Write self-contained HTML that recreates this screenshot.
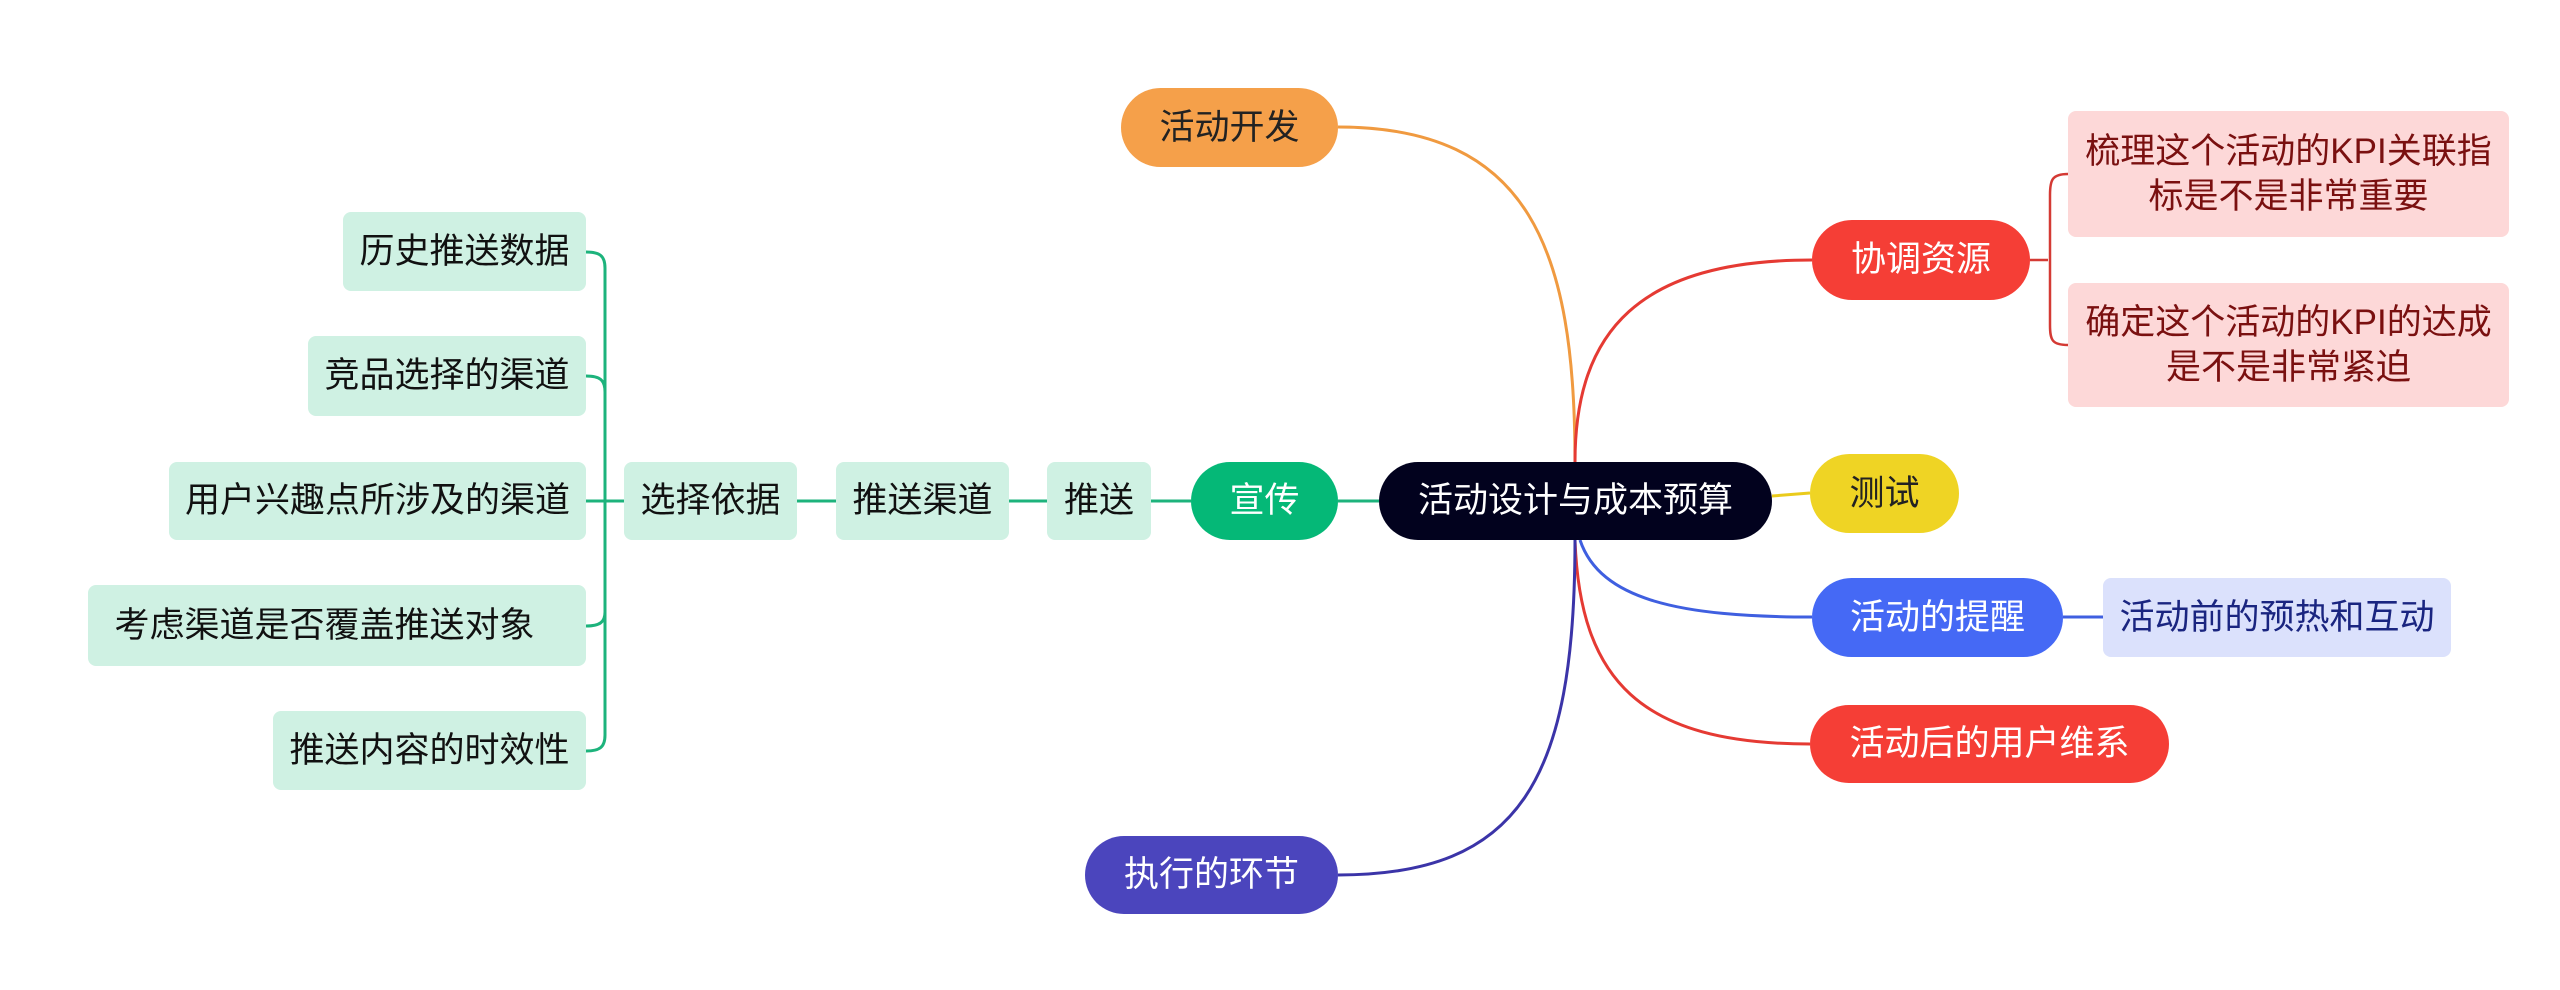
<!DOCTYPE html>
<html><head><meta charset="utf-8"><style>
body{margin:0;width:2560px;height:990px;background:#fff;position:relative;overflow:hidden;font-family:"Liberation Sans","Noto Sans CJK SC",sans-serif}
.n{position:absolute;display:flex;align-items:center;justify-content:center;box-sizing:border-box;font-size:35px;text-align:center;line-height:1.3;white-space:nowrap}
.p{border-radius:40px}
.g{background:#cff1e3;color:#111;border-radius:8px}
</style></head><body>
<svg width="2560" height="990" style="position:absolute;left:0;top:0">
<g fill="none" stroke-width="3">
<path d="M1575 462 C1575 250 1530 127 1338 127" stroke="#f09a40"/>
<path d="M1575 462 C1575 330 1640 260 1812 260" stroke="#e53a33"/>
<path d="M1772 496 L1810 493" stroke="#eacb1c"/>
<path d="M1580 540 C1600 600 1680 617 1812 617" stroke="#3f5fe0"/>
<path d="M2063 617 L2103 617" stroke="#3f5fe0"/>
<path d="M1575 540 C1580 680 1640 744 1810 744" stroke="#e53a33"/>
<path d="M1575 540 C1575 780 1520 875 1338 875" stroke="#3b34a8"/>
<path d="M1338 501 L1379 501 M1151 501 L1191 501 M1009 501 L1047 501 M797 501 L836 501" stroke="#1db37c"/>
<path d="M2030 260 L2048 260 M2068 174 C2052 174 2050 180 2050 195 L2050 325 C2050 340 2052 345 2068 345" stroke="#d43a34" stroke-width="2.5"/>
<path d="M624 501 L586 501 M586 252 C600 252 605 256 605 268 L605 735 C605 747 600 751 586 751 M586 376 C600 376 605 380 605 392 M586 626 C600 626 605 622 605 612" stroke="#1db37c"/>
</g></svg>
<div class="n p" style="left:1379px;top:462px;width:393px;height:78px;background:#02021e;color:#fff">活动设计与成本预算</div>
<div class="n p" style="left:1121px;top:88px;width:217px;height:79px;background:#f5a04a;color:#222">活动开发</div>
<div class="n p" style="left:1812px;top:220px;width:218px;height:80px;background:#f53e36;color:#fff">协调资源</div>
<div class="n" style="left:2068px;top:111px;width:441px;height:126px;background:#fdd8d8;color:#7a1010;border-radius:8px">梳理这个活动的KPI关联指<br>标是不是非常重要</div>
<div class="n" style="left:2068px;top:283px;width:441px;height:124px;background:#fdd8d8;color:#7a1010;border-radius:8px">确定这个活动的KPI的达成<br>是不是非常紧迫</div>
<div class="n p" style="left:1810px;top:454px;width:149px;height:79px;background:#efd424;color:#222">测试</div>
<div class="n p" style="left:1812px;top:578px;width:251px;height:79px;background:#4569f5;color:#fff">活动的提醒</div>
<div class="n" style="left:2103px;top:578px;width:348px;height:79px;background:#dbe1fc;color:#1a2580;border-radius:8px">活动前的预热和互动</div>
<div class="n p" style="left:1810px;top:705px;width:359px;height:78px;background:#f53e36;color:#fff">活动后的用户维系</div>
<div class="n p" style="left:1085px;top:836px;width:253px;height:78px;background:#4b45bd;color:#fff">执行的环节</div>
<div class="n p" style="left:1191px;top:462px;width:147px;height:78px;background:#05b877;color:#fff">宣传</div>
<div class="n g" style="left:1047px;top:462px;width:104px;height:78px">推送</div>
<div class="n g" style="left:836px;top:462px;width:173px;height:78px">推送渠道</div>
<div class="n g" style="left:624px;top:462px;width:173px;height:78px">选择依据</div>
<div class="n g" style="left:343px;top:212px;width:243px;height:79px">历史推送数据</div>
<div class="n g" style="left:308px;top:336px;width:278px;height:80px">竞品选择的渠道</div>
<div class="n g" style="left:169px;top:462px;width:417px;height:78px">用户兴趣点所涉及的渠道</div>
<div class="n g" style="left:88px;top:585px;width:498px;height:81px;padding-right:25px">考虑渠道是否覆盖推送对象</div>
<div class="n g" style="left:273px;top:711px;width:313px;height:79px">推送内容的时效性</div>
</body></html>
